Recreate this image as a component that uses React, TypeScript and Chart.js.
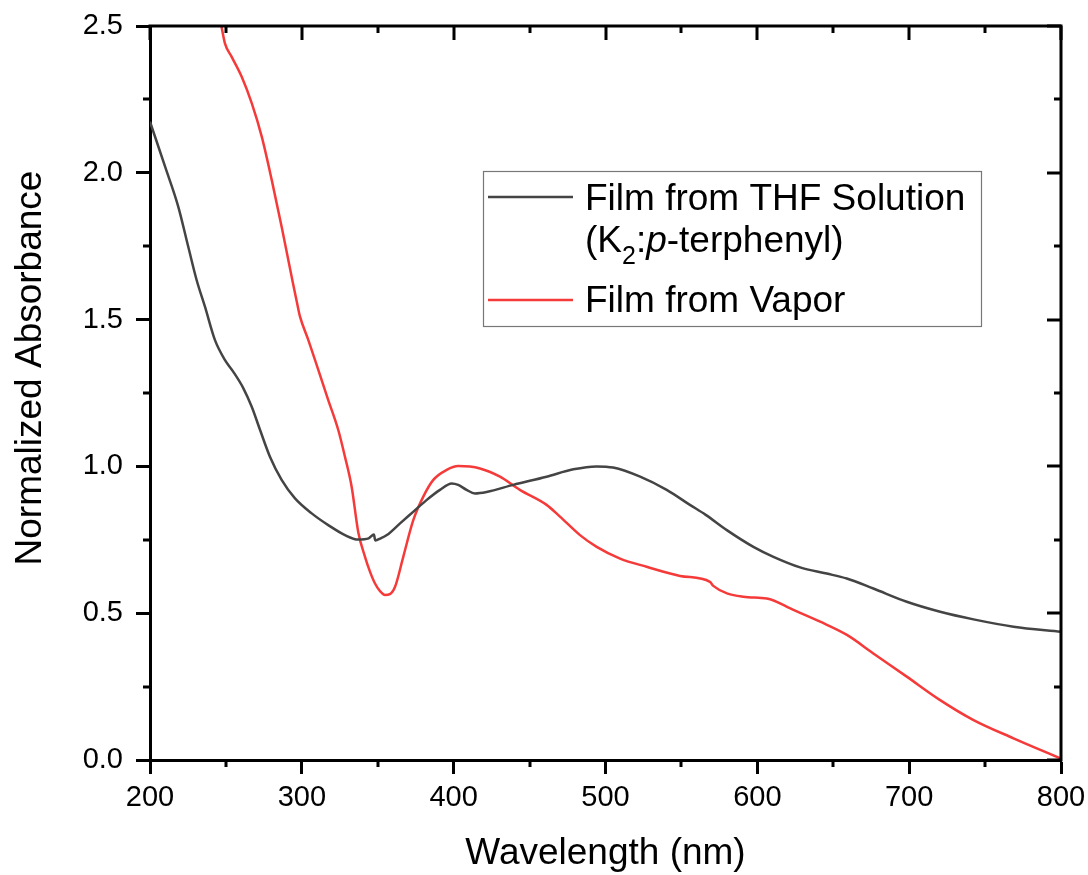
import React, { useEffect, useRef } from "react";
import { Chart, registerables } from "chart.js";

Chart.register(...registerables);

const FONT = "'Liberation Sans', Arial, Helvetica, sans-serif";

// Film from THF Solution (K2:p-terphenyl)
const thfWavelength = [200, 210, 218.6, 225.2, 230.7, 236.2, 242.8, 249.4, 254.9, 261.5, 267, 272.5, 279, 286.7, 295.5, 306.5, 317.4, 328.4, 337.2, 344, 347.5, 348.3, 352, 356, 364.7, 373.5, 382.3, 391, 398.7, 403, 408.5, 414, 421.7, 439.2, 461.2, 478.8, 494, 505, 522.8, 540.3, 555.6, 566, 579.9, 597.4, 610.6, 628.2, 645.7, 658.9, 676.4, 698.4, 720.4, 742.4, 768.7, 800];
const thfAbsorbance = [2.174, 2.02, 1.885, 1.748, 1.635, 1.544, 1.43, 1.362, 1.322, 1.266, 1.203, 1.124, 1.033, 0.954, 0.891, 0.84, 0.8, 0.766, 0.751, 0.755, 0.768, 0.748, 0.755, 0.766, 0.806, 0.846, 0.886, 0.92, 0.942, 0.937, 0.92, 0.908, 0.913, 0.937, 0.965, 0.99, 1.0, 0.996, 0.965, 0.92, 0.869, 0.835, 0.783, 0.726, 0.692, 0.656, 0.635, 0.618, 0.584, 0.539, 0.505, 0.479, 0.454, 0.437];

// Film from Vapor
const vaporWavelength = [247, 249.4, 253.8, 260.4, 267, 273.6, 280.2, 286.7, 293.3, 297.5, 298.8, 304.3, 310.9, 317.4, 324, 328.4, 332.8, 337.2, 341.6, 345, 348.2, 351.5, 354.8, 358, 361.4, 366.8, 373.4, 380, 386.6, 395.4, 403, 417.3, 430.5, 443.6, 461.2, 470, 483.2, 494.2, 509.6, 527.1, 549.1, 568.8, 569.5, 571, 590.8, 606.2, 623.8, 641.4, 659, 676.4, 698.4, 720.4, 742.4, 768.7, 800];
const vaporAbsorbance = [2.5, 2.44, 2.395, 2.327, 2.237, 2.123, 1.975, 1.816, 1.646, 1.54, 1.51, 1.43, 1.328, 1.226, 1.124, 1.033, 0.931, 0.775, 0.692, 0.64, 0.601, 0.575, 0.562, 0.565, 0.59, 0.692, 0.817, 0.897, 0.954, 0.988, 1.001, 0.993, 0.965, 0.92, 0.869, 0.829, 0.766, 0.726, 0.686, 0.658, 0.627, 0.607, 0.603, 0.593, 0.556, 0.55, 0.511, 0.471, 0.426, 0.363, 0.284, 0.204, 0.136, 0.074, 0.005];

const xMajorTicks = [200, 300, 400, 500, 600, 700, 800];
const xMinorTicks = [250, 350, 450, 550, 650, 750];
const yMajorTicks = [0, 0.5, 1.0, 1.5, 2.0, 2.5];
const yMinorTicks = [0.25, 0.75, 1.25, 1.75, 2.25];

const xTitle = "Wavelength (nm)";
const yTitle = "Normalized Absorbance";

const THF_COLOR = "#444444";
const VAPOR_COLOR = "#f53a3a";

const framePlugin = {
  id: "originFrame",
  afterDraw(chart: any) {
    const { ctx, chartArea } = chart;
    const { left, right, top, bottom } = chartArea;
    const xs = chart.scales.x;
    const ys = chart.scales.y;
    ctx.save();
    ctx.strokeStyle = "#000";
    ctx.lineWidth = 3;
    ctx.lineCap = "butt";
    // top & right frame
    ctx.beginPath();
    ctx.moveTo(left - 1.5, top);
    ctx.lineTo(right, top);
    ctx.lineTo(right, bottom + 1.5);
    ctx.stroke();

    const MAJ = 14;
    const MIN = 7;
    ctx.beginPath();
    for (const v of xMajorTicks) {
      const px = Math.round(xs.getPixelForValue(v));
      ctx.moveTo(px, top);
      ctx.lineTo(px, top + MAJ);
    }
    for (const v of xMinorTicks) {
      const px = Math.round(xs.getPixelForValue(v));
      ctx.moveTo(px, top);
      ctx.lineTo(px, top + MIN);
      ctx.moveTo(px, bottom);
      ctx.lineTo(px, bottom + MIN);
    }
    for (const v of yMajorTicks) {
      const py = Math.round(ys.getPixelForValue(v));
      ctx.moveTo(right, py);
      ctx.lineTo(right - MAJ, py);
    }
    for (const v of yMinorTicks) {
      const py = Math.round(ys.getPixelForValue(v));
      ctx.moveTo(right, py);
      ctx.lineTo(right - MIN, py);
      ctx.moveTo(left, py);
      ctx.lineTo(left - MIN, py);
    }
    ctx.stroke();

    // axis titles
    ctx.fillStyle = "#000";
    ctx.font = `37px ${FONT}`;
    ctx.textAlign = "center";
    ctx.textBaseline = "alphabetic";
    ctx.fillText(xTitle, (left + right) / 2, 864);
    ctx.save();
    ctx.translate(41, 368);
    ctx.rotate(-Math.PI / 2);
    ctx.fillText(yTitle, 0, 0);
    ctx.restore();

    // legend
    const bx = 483, by = 171, bw = 498, bh = 155;
    ctx.fillStyle = "#fff";
    ctx.fillRect(bx, by, bw, bh);
    ctx.strokeStyle = "#777";
    ctx.lineWidth = 1.2;
    ctx.strokeRect(bx + 0.5, by + 0.5, bw, bh);

    const ds = chart.data.datasets;
    ctx.lineWidth = 2.5;
    ctx.strokeStyle = ds[0].borderColor;
    ctx.beginPath();
    ctx.moveTo(488, 197);
    ctx.lineTo(573, 197);
    ctx.stroke();
    ctx.strokeStyle = ds[1].borderColor;
    ctx.beginPath();
    ctx.moveTo(488, 300);
    ctx.lineTo(573, 300);
    ctx.stroke();

    ctx.fillStyle = "#000";
    ctx.textAlign = "left";
    ctx.textBaseline = "alphabetic";
    const main = `37px ${FONT}`;
    ctx.font = main;
    ctx.fillText(ds[0].label, 585, 210);
    // second line: (K2:p-terphenyl)
    let cx = 585;
    const base2 = 252;
    const parts: [string, string, number][] = [
      ["(K", main, 0],
      ["2", `25px ${FONT}`, 12],
      [":", main, 0],
      ["p", `italic 37px ${FONT}`, 0],
      ["-terphenyl)", main, 0],
    ];
    for (const [t, f, dy] of parts) {
      ctx.font = f;
      ctx.fillText(t, cx, base2 + dy);
      cx += ctx.measureText(t).width;
    }
    ctx.font = main;
    ctx.fillText(ds[1].label, 585, 312);
    ctx.restore();
  },
};

export default function App() {
  const canvasRef = useRef<HTMLCanvasElement | null>(null);

  useEffect(() => {
    const canvas = canvasRef.current;
    if (!canvas) return;
    const thfData = thfWavelength.map((w, i) => ({ x: w, y: thfAbsorbance[i] }));
    const vaporData = vaporWavelength.map((w, i) => ({ x: w, y: vaporAbsorbance[i] }));

    const chart = new Chart(canvas, {
      type: "line",
      data: {
        datasets: [
          {
            label: "Film from THF Solution",
            data: thfData,
            borderColor: THF_COLOR,
            borderWidth: 2.5,
            pointRadius: 0,
            cubicInterpolationMode: "monotone",
            fill: false,
          },
          {
            label: "Film from Vapor",
            data: vaporData,
            borderColor: VAPOR_COLOR,
            borderWidth: 2.5,
            pointRadius: 0,
            cubicInterpolationMode: "monotone",
            fill: false,
          },
        ],
      },
      options: {
        animation: false,
        responsive: true,
        maintainAspectRatio: false,
        layout: { padding: { top: 26, right: 27, left: 0, bottom: 0 } },
        plugins: {
          legend: { display: false },
          tooltip: { enabled: false },
        },
        scales: {
          x: {
            type: "linear",
            min: 200,
            max: 800,
            afterFit: (scale: any) => {
              scale.height = 115;
              scale.paddingLeft = 0;
              scale.paddingRight = 0;
            },
            ticks: {
              stepSize: 100,
              color: "#000",
              padding: 7,
              font: { family: FONT, size: 29 },
              maxRotation: 0,
              callback: (v: any) => String(v),
            },
            grid: {
              display: true,
              drawOnChartArea: false,
              drawTicks: true,
              tickLength: 14,
              tickWidth: 3,
              tickColor: "#000",
            },
            border: { display: true, color: "#000", width: 3 },
          },
          y: {
            type: "linear",
            min: 0,
            max: 2.5,
            afterFit: (scale: any) => {
              scale.width = 150;
              scale.paddingTop = 0;
              scale.paddingBottom = 0;
            },
            ticks: {
              stepSize: 0.5,
              color: "#000",
              padding: 13,
              font: { family: FONT, size: 29 },
              callback: (v: any) => Number(v).toFixed(1),
            },
            grid: {
              display: true,
              drawOnChartArea: false,
              drawTicks: true,
              tickLength: 14,
              tickWidth: 3,
              tickColor: "#000",
            },
            border: { display: true, color: "#000", width: 3 },
          },
        },
      },
      plugins: [framePlugin],
    });
    return () => chart.destroy();
  }, []);

  return (
    <div style={{ position: "absolute", left: 0, top: 0, width: 1088, height: 875, background: "#fff" }}>
      <canvas ref={canvasRef} width={1088} height={875} />
    </div>
  );
}
